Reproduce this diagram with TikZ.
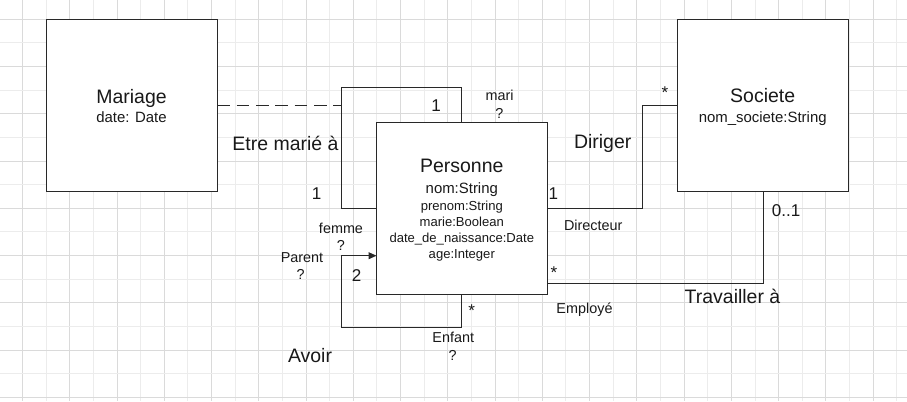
\documentclass[tikz,border=0pt]{standalone}
\usepackage{fontspec}
\setmainfont{Liberation Sans}
\usetikzlibrary{arrows.meta,calc}

\definecolor{gridmajor}{RGB}{218,218,218}
\definecolor{gridminor}{RGB}{236,236,236}
\definecolor{inkline}{RGB}{40,40,40}

\tikzset{every picture/.style={line width=0.75pt}}
\tikzset{
  classbox/.style={draw=inkline, fill=white, inner sep=0pt, outer sep=0pt, minimum width=128pt, minimum height=129pt},
  lbl/.style={inner sep=0.75pt, text height=0.72em, text depth=0pt, text=black!90},
  bigtxt/.style={lbl, yshift=-1.6pt, font=\fontsize{14.6}{17}\selectfont},
  attrtxt/.style={lbl, font=\fontsize{11.2}{13}\selectfont},
  smallattr/.style={lbl, font=\fontsize{9.8}{12}\selectfont},
  roletxt/.style={lbl, font=\fontsize{10.8}{13}\selectfont},
  multtxt/.style={lbl, font=\fontsize{12.8}{15}\selectfont},
  assoc/.style={draw=inkline},
}

\begin{document}
\begin{tikzpicture}[x=0.75pt,y=0.75pt,yscale=-1,xscale=1]
\useasboundingbox (0,0) rectangle (907,401);
\fill[white] (0,0) rectangle (907,401);

%Grid
\foreach \i in {0,...,37} {
  \pgfmathtruncatemacro{\odd}{mod(\i,2)}
  \ifnum\odd=0 \def\gc{gridmajor}\else \def\gc{gridminor}\fi
  \draw[\gc, line width=0.75pt] ({22.5+23.63*\i},0) -- ({22.5+23.63*\i},401);
}
\foreach \j in {0,...,16} {
  \pgfmathtruncatemacro{\odd}{mod(\j,2)}
  \ifnum\odd=0 \def\gc{gridmajor}\else \def\gc{gridminor}\fi
  \draw[\gc, line width=0.75pt] (0,{19.3+23.63*\j}) -- (907,{19.3+23.63*\j});
}

%Shape: Classes
\node[classbox] (mariage) at (132,105.3) {};
\node[classbox] (soc) at (763.3,105.3) {};
\node[classbox, minimum height=128.5pt] (pers) at (461.85,208.35) {};

%Bend points
\coordinate (marieC) at (341.3,87.3);
\coordinate (dirC) at (642.3,105.3);
\coordinate (avoirC) at (341.7,327.7);

%Etre marie a
\draw[assoc] (pers.north) |- (marieC) |- (pers.west);
\draw[assoc, dash pattern=on 9.5pt off 5pt] (mariage.east) -- (mariage.east -| marieC);
%Diriger
\draw[assoc] (pers.east) -| (dirC) |- (soc.west);
%Travailler a
\draw[assoc] ($(pers.north east)!0.9375!(pers.south east)$) -| (soc.south);
%Avoir
\draw[assoc, -{Triangle[length=6pt,width=5.2pt]}] (pers.south) |- (avoirC) |- ($(pers.north west)!0.7764!(pers.south west)$);

% Text Node
\node[bigtxt] (mariageT) at (131.5,97) {Mariage};
\node[attrtxt] (mariageA) at (131.5,118) {date: Date};
\node[bigtxt] (socT) at (762.7,96) {Societe};
\node[attrtxt] (socA) at (762.7,118) {nom\_societe:String};
\node[bigtxt] (persT) at (461.8,166) {Personne};
\node[attrtxt] (persA1) at (461.8,188.5) {nom:String};
\node[smallattr] (persA2) at (461.8,206) {prenom:String};
\node[smallattr] (persA3) at (461.8,222) {marie:Boolean};
\node[smallattr] (persA4) at (461.8,237.5) {date\_de\_naissance:Date};
\node[smallattr] (persA5) at (461.8,253.5) {age:Integer};

% Text Node
\node[bigtxt] (etreT) at (285.5,144) {Etre marié à};
\node[multtxt] (mariM) at (436,106.7) {1};
\node[roletxt] (mariR) at (499.5,96) {mari};
\node[roletxt] (mariQ) at (499.3,114) {?};
\node[multtxt] (femmeM) at (316.7,195) {1};
\node[roletxt] (femmeR) at (341,228.3) {femme};
\node[roletxt] (femmeQ) at (341,245.5) {?};

% Text Node
\node[bigtxt] (avoirT) at (310,355.7) {Avoir};
\node[roletxt] (parentR) at (302,257.3) {Parent};
\node[roletxt] (parentQ) at (300.7,275) {?};
\node[multtxt] (parentM) at (356.7,276.7) {2};
\node[multtxt] (enfantM) at (471.7,312) {*};
\node[roletxt] (enfantR) at (453.3,337.3) {Enfant};
\node[roletxt] (enfantQ) at (452.7,355.5) {?};

% Text Node
\node[bigtxt] (dirT) at (602.7,141.7) {Diriger};
\node[multtxt] (dirM1) at (553.3,194.3) {1};
\node[roletxt] (dirR) at (593.3,226) {Directeur};
\node[multtxt] (dirM2) at (665,94) {*};

% Text Node
\node[bigtxt] (travT) at (732.5,296.7) {Travailler à};
\node[multtxt] (travM1) at (554,274) {*};
\node[multtxt] (travM2) at (786,211.7) {0..1};
\node[roletxt] (travR) at (584.5,308.3) {Employé};

\end{tikzpicture}
\end{document}
